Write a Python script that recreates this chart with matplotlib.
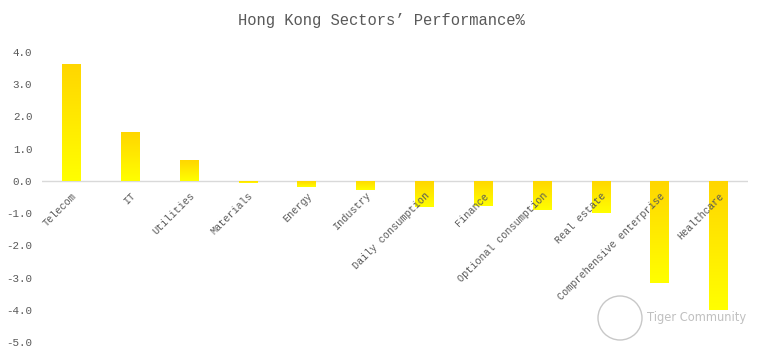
import matplotlib.pyplot as plt
from matplotlib.patches import Ellipse
from matplotlib.transforms import ScaledTranslation
import numpy as np

sectors = ["Telecom", "IT", "Utilities", "Materials", "Energy", "Industry",
           "Daily consumption", "Finance", "Optional consumption", "Real estate",
           "Comprehensive enterprise", "Healthcare"]
performance = [3.62, 1.52, 0.65, -0.06, -0.18, -0.29,
               -0.80, -0.79, -0.91, -1.01, -3.18, -4.00]
y_ticks = [4.0, 3.0, 2.0, 1.0, 0.0, -1.0, -2.0, -3.0, -4.0, -5.0]

plt.rcParams['font.family'] = ['Liberation Mono', 'DejaVu Sans Mono']

fig = plt.figure(figsize=(7.62, 3.56), dpi=100)
ax = fig.add_axes([42/762, 1 - 342/356, (748 - 42)/762, (342 - 52)/356])

x = np.arange(len(sectors))
bars = ax.bar(x, performance, width=0.32, color='none', edgecolor='none', zorder=3)

# vertical gradient inside each bar: deeper gold at top, bright yellow at bottom
grad = np.linspace(0, 1, 256).reshape(-1, 1)
top_col = np.array([1.0, 0.84, 0.0])
bot_col = np.array([1.0, 1.0, 0.0])
img = (top_col + (bot_col - top_col) * grad).reshape(256, 1, 3)
for b in bars:
    x0, y0 = b.get_x(), b.get_y()
    w, h = b.get_width(), b.get_height()
    ylo, yhi = min(y0, y0 + h), max(y0, y0 + h)
    im = ax.imshow(img, extent=[x0, x0 + w, ylo, yhi], aspect='auto',
                   origin='upper', zorder=3)
    im.set_clip_path(b)

ax.axhline(0, color='#d9d9d9', linewidth=1.0, zorder=2)

ax.set_xlim(-0.5, len(sectors) - 0.5)
ax.set_ylim(-5, 4)
ax.set_yticks(y_ticks)
ax.set_yticklabels([f"{v:.1f}" for v in y_ticks], color='#595959', fontsize=7.8)
ax.spines['bottom'].set_position(('data', 0))
ax.set_xticks(x)
ax.set_xticklabels(sectors, rotation=45, ha='right', va='top',
                   rotation_mode='anchor', color='#595959', fontsize=7.3)
shift = ScaledTranslation(-4/100, 0, fig.dpi_scale_trans)
for lbl in ax.get_xticklabels():
    lbl.set_transform(lbl.get_transform() + shift)
ax.xaxis.set_zorder(6)
ax.tick_params(axis='both', length=0)
ax.tick_params(axis='x', pad=7)
ax.tick_params(axis='y', pad=7)
for s in ax.spines.values():
    s.set_visible(False)

fig.text(0.5, 1 - 20/356, "Hong Kong Sectors\u2019 Performance%", ha='center',
         va='center', fontsize=11.2, color='#595959')

# watermark
logo = Ellipse((620/762, 1 - 318/356), 44/762, 44/356, transform=fig.transFigure,
               fill=False, edgecolor='#c8c8c8', linewidth=1.0)
fig.add_artist(logo)
fig.text(647/762, 1 - 318/356, "Tiger Community", ha='left', va='center',
         fontsize=8.3, color='#c0c0c0', family='DejaVu Sans')

fig.savefig('out.png', dpi=100)
